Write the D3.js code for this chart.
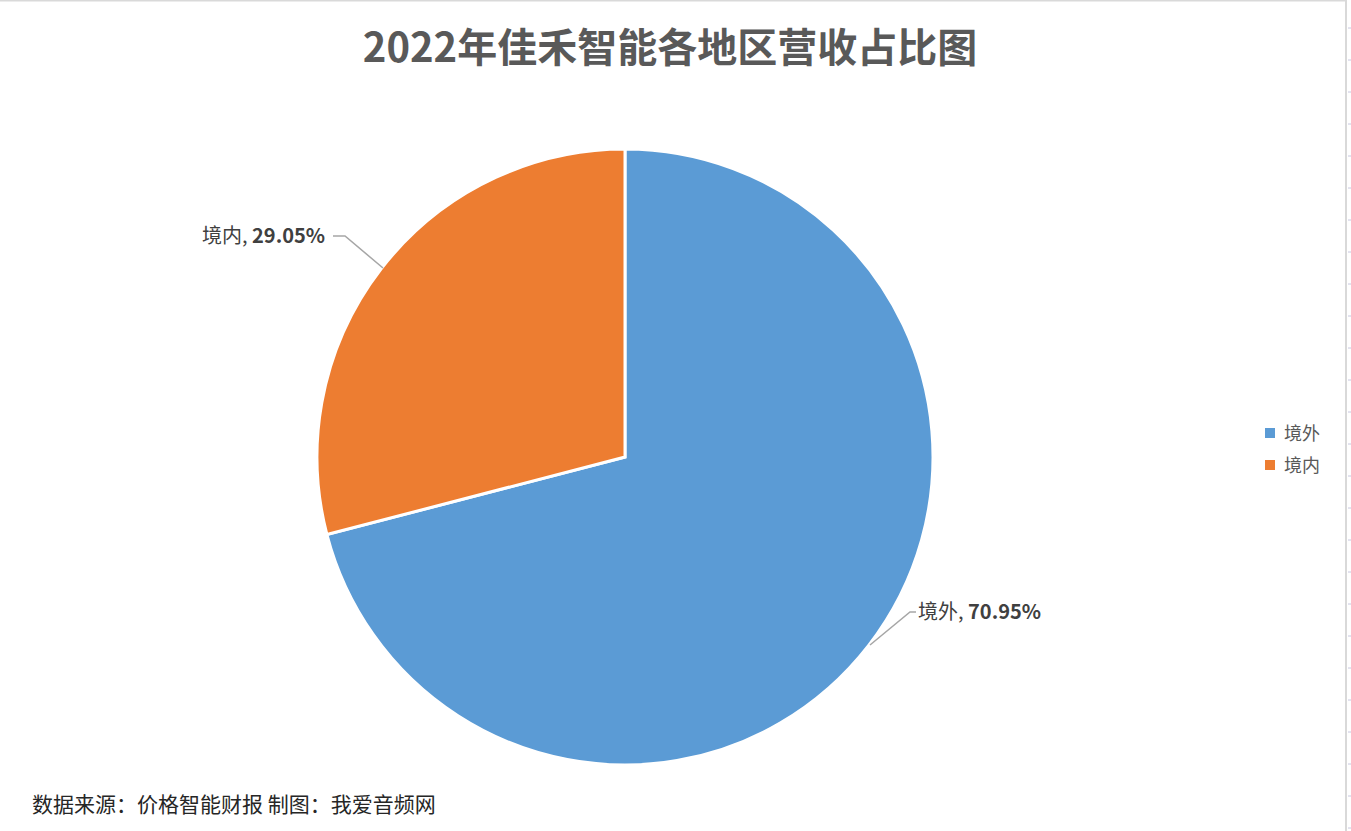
<!DOCTYPE html>
<html><head><meta charset="utf-8">
<script src="https://cdn.jsdelivr.net/npm/d3@7"></script>
<style>body{margin:0;background:#fff}svg{display:block;font-family:"Noto Sans CJK SC","Noto Sans",sans-serif}</style>
</head><body><svg id="chart" width="1351" height="831"></svg>
<script>
const categories = ["境外", "境内"]
const shares = [70.95, 29.05]
const colors = ["#5b9bd5", "#ed7d31"]

const svg = d3.select("#chart")
const cx = 625, cy = 457, r = 308

// excel frame + row ticks on the right
svg.append("line").attr("x1", 0).attr("x2", 1346).attr("y1", 0.5).attr("y2", 0.5).attr("stroke", "#d9d9d9").attr("stroke-width", 2)
svg.append("line").attr("x1", 1346).attr("x2", 1346).attr("y1", 0).attr("y2", 831).attr("stroke", "#d9d9d9").attr("stroke-width", 2)
d3.range(28, 831, 32).forEach(y => {
  svg.append("line").attr("x1", 1348).attr("x2", 1351).attr("y1", y).attr("y2", y).attr("stroke", "#c8c8e0")
})

svg.append("text").attr("x", 670).attr("y", 62).attr("text-anchor", "middle")
  .attr("font-size", 40).attr("font-weight", "bold").attr("fill", "#595959")
  .text("2022年佳禾智能各地区营收占比图")

const pie = d3.pie().sort(null).value(d => d)
const arc = d3.arc().innerRadius(0).outerRadius(r)
const arcs = pie(shares)

const g = svg.append("g").attr("transform", `translate(${cx},${cy})`)
g.selectAll("path").data(arcs).join("path")
  .attr("d", arc).attr("fill", (d, i) => colors[i])
  .attr("stroke", "#fff").attr("stroke-width", 3)

// labels with leader lines
const labelPos = [
  { x: 918, y: 612, anchor: "start", pts: [[870, 645], [910, 612], [916, 612]] },
  { x: 325, y: 236, anchor: "end", pts: [[383, 268], [345, 236], [333, 236]] }
]
labelPos.forEach((p, i) => {
  svg.append("polyline").attr("points", p.pts.map(q => q.join(",")).join(" "))
    .attr("fill", "none").attr("stroke", "#a6a6a6").attr("stroke-width", 1.5)
  const t = svg.append("text").attr("x", p.x).attr("y", p.y + 7).attr("text-anchor", p.anchor)
    .attr("font-size", 20).attr("fill", "#404040")
  t.append("tspan").text(categories[i] + ", ")
  t.append("tspan").attr("font-weight", "bold").text(shares[i].toFixed(2) + "%")
})

// legend
categories.forEach((c, i) => {
  const y = 433 + i * 32
  svg.append("rect").attr("x", 1265).attr("y", y - 5).attr("width", 10).attr("height", 10).attr("fill", colors[i])
  svg.append("text").attr("x", 1284).attr("y", y + 7).attr("font-size", 18).attr("fill", "#595959").text(c)
})

svg.append("text").attr("x", 32).attr("y", 812).attr("font-size", 21).attr("fill", "#262626")
  .text("数据来源：价格智能财报  制图：我爱音频网")
</script></body></html>
